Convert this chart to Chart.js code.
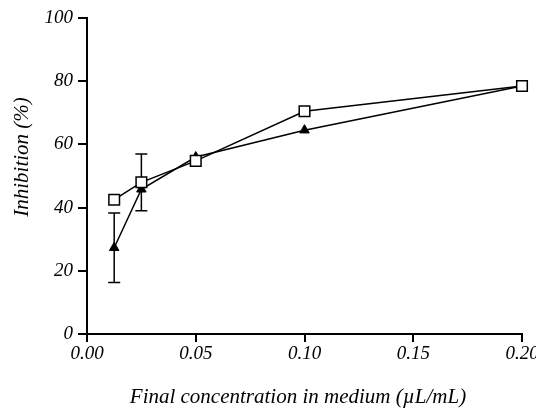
<!DOCTYPE html>
<html>
<head>
<meta charset="utf-8">
<script src="https://cdn.jsdelivr.net/npm/chart.js@4/dist/chart.umd.min.js"></script>
<style>
  html, body { margin: 0; padding: 0; background: #fff; }
  #wrap { width: 536px; height: 409px; }
</style>
</head>
<body>
<div id="wrap"><canvas id="chart" width="536" height="409"></canvas></div>
<script>
// concentrations (uL/mL)
const concentrations = [0.0125, 0.025, 0.05, 0.1, 0.2];
// open squares
const squareValues = [42.5, 48, 54.8, 70.5, 78.5];
const squareErrors = [0, 9, 0, 0, 0];
// filled triangles
const triangleValues = [27.3, 45.8, 56, 64.5, 78.5];
const triangleErrors = [11, 0, 0, 0, 0];

const xTicks = [0, 0.05, 0.10, 0.15, 0.20];
const yTicks = [0, 20, 40, 60, 80, 100];

const xTitle = 'Final concentration in medium (\u00b5L/mL)';
const yTitle = 'Inhibition (%)';

const toPoints = (vals) => concentrations.map((c, i) => ({ x: c, y: vals[i] }));

const serif = '"Liberation Serif", "DejaVu Serif", serif';

// error bars go under the markers, axis titles are placed by hand
const extras = {
  id: 'extras',
  beforeDatasetsDraw(chart) {
    const { ctx, scales: { x, y } } = chart;
    ctx.save();
    ctx.strokeStyle = '#000';
    ctx.lineWidth = 1.5;
    const bars = (vals, errs) => concentrations.forEach((c, i) => {
      const e = errs[i];
      if (!e) return;
      const px = x.getPixelForValue(c);
      const top = y.getPixelForValue(vals[i] + e);
      const bot = y.getPixelForValue(vals[i] - e);
      ctx.beginPath();
      ctx.moveTo(px, top); ctx.lineTo(px, bot);
      ctx.moveTo(px - 6, top); ctx.lineTo(px + 6, top);
      ctx.moveTo(px - 6, bot); ctx.lineTo(px + 6, bot);
      ctx.stroke();
    });
    bars(triangleValues, triangleErrors);
    bars(squareValues, squareErrors);
    ctx.restore();
  },
  afterDraw(chart) {
    const ctx = chart.ctx;
    ctx.save();
    ctx.fillStyle = '#000';
    ctx.font = 'italic 21px ' + serif;
    ctx.textAlign = 'center';
    ctx.textBaseline = 'middle';
    ctx.fillText(xTitle, 298, 397);
    ctx.translate(22, 157);
    ctx.rotate(-Math.PI / 2);
    ctx.fillText(yTitle, 0, 0);
    ctx.restore();
  }
};

const tickFont = { family: serif, size: 19, style: 'italic' };

new Chart(document.getElementById('chart'), {
  type: 'scatter',
  data: {
    datasets: [
      {
        label: 'triangles',
        data: toPoints(triangleValues),
        showLine: true,
        clip: false,
        borderColor: '#000',
        backgroundColor: '#000',
        borderWidth: 1.5,
        pointStyle: 'triangle',
        pointRadius: 5.5,
        pointBorderWidth: 1,
        order: 2
      },
      {
        label: 'squares',
        data: toPoints(squareValues),
        showLine: true,
        clip: false,
        borderColor: '#000',
        backgroundColor: '#fff',
        borderWidth: 1.5,
        pointStyle: 'rect',
        pointRadius: 7.5,
        pointBorderWidth: 1.5,
        order: 1
      }
    ]
  },
  options: {
    responsive: false,
    animation: false,
    layout: { padding: { left: 0, right: 14, top: 18, bottom: 0 } },
    plugins: { legend: { display: false }, tooltip: { enabled: false } },
    scales: {
      x: {
        type: 'linear',
        min: 0, max: 0.2,
        afterBuildTicks: (s) => { s.ticks = xTicks.map(v => ({ value: v })); },
        afterFit: (s) => { s.height = 75; s.paddingRight = 0; },
        grid: { drawOnChartArea: false, drawTicks: true, tickLength: 8, color: '#000', lineWidth: 2 },
        border: { color: '#000', width: 2 },
        ticks: { color: '#000', font: tickFont, padding: 1, maxRotation: 0,
                 callback: (v) => v.toFixed(2) }
      },
      y: {
        min: 0, max: 100,
        afterBuildTicks: (s) => { s.ticks = yTicks.map(v => ({ value: v })); },
        afterFit: (s) => { s.width = 87; },
        grid: { drawOnChartArea: false, drawTicks: true, tickLength: 9, color: '#000', lineWidth: 2 },
        border: { color: '#000', width: 2 },
        ticks: { color: '#000', font: tickFont, padding: 5 }
      }
    }
  },
  plugins: [extras]
});
</script>
</body>
</html>
